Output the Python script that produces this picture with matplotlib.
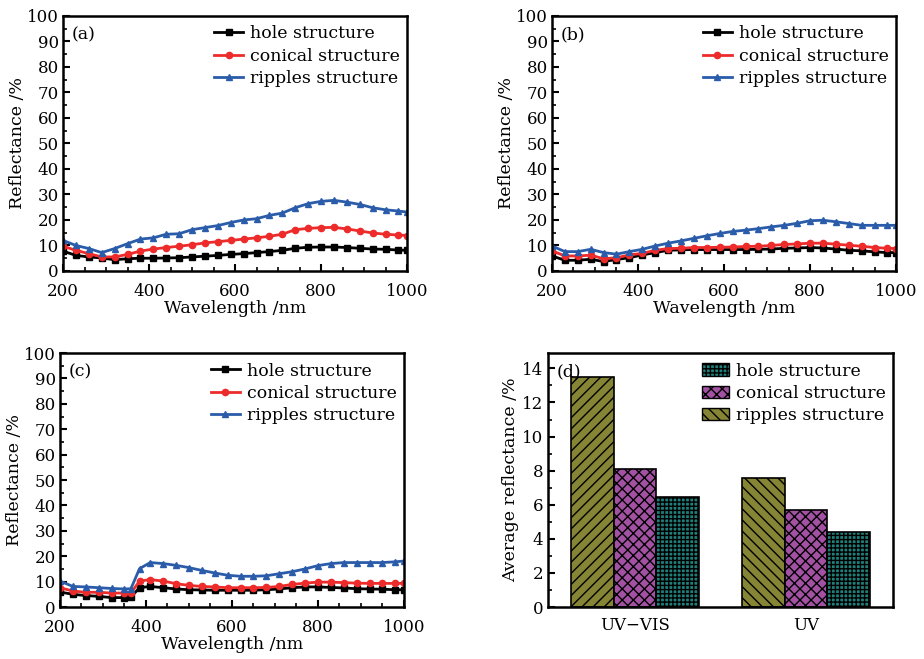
import matplotlib.pyplot as plt
from matplotlib.patches import Patch
from matplotlib.ticker import MultipleLocator

plt.rcParams['font.family'] = ['DejaVu Serif']
plt.rcParams['hatch.linewidth'] = 1.0

# wavelength grid (nm) for panels (a) and (b)
wl = [200, 230, 260, 290, 320, 350, 380, 410, 440, 470, 500, 530, 560, 590,
      620, 650, 680, 710, 740, 770, 800, 830, 860, 890, 920, 950, 980, 1000]

a_hole = [7.8, 6.1, 5.5, 5.1, 4.4, 4.8, 5.0, 5.0, 5.1, 5.2, 5.5, 5.8, 6.1, 6.5,
          6.8, 7.2, 7.6, 8.1, 8.9, 9.3, 9.4, 9.4, 9.2, 8.9, 8.6, 8.5, 8.2, 8.1]
a_conical = [9.7, 8.1, 6.8, 5.5, 5.5, 6.5, 7.8, 8.6, 9.2, 9.7, 10.3, 11.0, 11.5, 12.0,
             12.5, 13.0, 13.6, 14.4, 16.2, 16.7, 17.0, 17.1, 16.5, 15.7, 14.9, 14.4, 14.1, 13.9]
a_ripples = [12.0, 10.0, 8.8, 7.2, 8.8, 10.7, 12.5, 13.0, 14.4, 14.6, 16.2, 17.0, 17.8, 19.0,
             20.0, 20.5, 21.8, 22.7, 24.8, 26.4, 27.3, 27.7, 27.0, 26.1, 24.8, 24.0, 23.5, 23.1]

b_hole = [5.9, 4.2, 4.2, 4.6, 3.7, 4.5, 5.2, 6.3, 7.2, 8.1, 8.3, 8.4, 8.4, 8.4,
          8.4, 8.4, 8.5, 8.6, 8.9, 9.0, 9.2, 9.0, 8.6, 8.1, 7.9, 7.5, 7.2, 7.2]
b_conical = [7.9, 5.9, 5.9, 6.2, 4.8, 5.2, 6.3, 6.9, 8.1, 8.8, 8.9, 9.2, 9.2, 9.3,
             9.4, 9.6, 9.7, 10.0, 10.4, 10.6, 10.9, 10.9, 10.5, 10.1, 9.7, 9.2, 8.9, 8.8]
b_ripples = [9.8, 7.6, 7.6, 8.5, 7.2, 6.6, 7.6, 8.5, 9.8, 10.9, 11.8, 12.8, 13.8, 14.7,
             15.5, 16.0, 16.6, 17.3, 17.9, 18.7, 19.7, 19.9, 19.3, 18.6, 17.9, 17.9, 17.9, 17.9]

# panel (c) has a step near 370 nm
wl_c = [200, 230, 260, 290, 320, 350, 365, 385, 410, 440, 470, 500, 530, 560, 590,
        620, 650, 680, 710, 740, 770, 800, 830, 860, 890, 920, 950, 980, 1000]
c_hole = [5.9, 5.0, 4.5, 4.2, 3.7, 3.7, 3.9, 7.6, 8.1, 7.6, 7.1, 6.8, 6.7, 6.6, 6.6,
          6.6, 6.6, 6.8, 7.1, 7.6, 7.9, 7.9, 7.7, 7.5, 7.2, 7.1, 7.0, 6.8, 6.8]
c_conical = [7.6, 6.3, 5.8, 5.8, 5.5, 5.5, 5.5, 10.2, 10.8, 10.2, 9.2, 8.5, 8.1, 7.9, 7.6,
             7.6, 7.6, 7.7, 8.1, 8.9, 9.4, 9.8, 9.8, 9.6, 9.4, 9.3, 9.3, 9.3, 9.3]
c_ripples = [10.2, 8.1, 7.9, 7.6, 7.3, 7.1, 7.2, 15.1, 17.5, 17.1, 16.4, 15.5, 14.4, 13.4, 12.5,
             12.1, 12.1, 12.3, 13.1, 13.9, 15.0, 16.3, 17.1, 17.5, 17.5, 17.5, 17.5, 17.8, 18.1]

# panel (d) average reflectance
bands = ['UV\u2212VIS', 'UV']
avg_ripples = [13.5, 7.55]
avg_conical = [8.1, 5.7]
avg_hole = [6.45, 4.4]

labels = ['hole structure', 'conical structure', 'ripples structure']

fig = plt.figure(figsize=(9.24, 6.59), dpi=100)
ax_a = fig.add_axes([0.0682, 0.5888, 0.3723, 0.387])
ax_b = fig.add_axes([0.5974, 0.5888, 0.3723, 0.387])
ax_c = fig.add_axes([0.0649, 0.0789, 0.3723, 0.3854])
ax_d = fig.add_axes([0.5931, 0.0789, 0.3734, 0.3854])

tfs = 12
lfs = 12.5


def line_panel(ax, x, hole, conical, ripples, tag):
    ax.plot(x, hole, '-s', color='black', lw=2, ms=4.5, label=labels[0])
    ax.plot(x, conical, '-o', color='#ee2b2b', lw=2, ms=4.5, label=labels[1])
    ax.plot(x, ripples, '-^', color='#2a5caa', lw=2, ms=5, label=labels[2])
    ax.set_xlim(200, 1000)
    ax.set_ylim(0, 100)
    ax.xaxis.set_major_locator(MultipleLocator(200))
    ax.xaxis.set_minor_locator(MultipleLocator(50))
    ax.yaxis.set_major_locator(MultipleLocator(10))
    ax.yaxis.set_minor_locator(MultipleLocator(5))
    ax.tick_params(which='both', direction='in', labelsize=tfs, top=False, right=False)
    ax.tick_params(axis='x', pad=8.5)
    ax.tick_params(axis='y', pad=3)
    ax.tick_params(which='major', length=5, width=1.5)
    ax.tick_params(which='minor', length=3, width=1.2)
    ax.set_xlabel('Wavelength /nm', fontsize=lfs, labelpad=0)
    ax.set_ylabel('Reflectance /%', fontsize=lfs, labelpad=1)
    for s in ax.spines.values():
        s.set_linewidth(1.8)
    ax.text(0.025, 0.925, tag, transform=ax.transAxes, fontsize=lfs, va='center')
    ax.legend(loc='upper right', frameon=False, fontsize=lfs, handlelength=1.7,
              handletextpad=0.4, labelspacing=0.3, borderaxespad=0.0,
              bbox_to_anchor=(1.0, 0.99))


line_panel(ax_a, wl, a_hole, a_conical, a_ripples, '(a)')
line_panel(ax_b, wl, b_hole, b_conical, b_ripples, '(b)')
line_panel(ax_c, wl_c, c_hole, c_conical, c_ripples, '(c)')

# bar panel
olive, magenta, teal = '#858535', '#a352a3', '#1f7f7a'
w = 0.25
pos = [0, 1]
ax_d.bar([p - w for p in pos], avg_ripples, w, color=olive, edgecolor='black', lw=1.2)
ax_d.bar(pos, avg_conical, w, color=magenta, edgecolor='black', lw=1.2, hatch='xxx')
ax_d.bar([p + w for p in pos], avg_hole, w, color=teal, edgecolor='black', lw=1.2, hatch='++++')
rip = ax_d.patches[:2]
rip[0].set_hatch('///')
rip[1].set_hatch('\\\\\\')
ax_d.set_xlim(-0.51, 1.51)
ax_d.set_ylim(0, 14.9)
ax_d.set_xticks(pos)
ax_d.set_xticklabels(bands)
ax_d.yaxis.set_major_locator(MultipleLocator(2))
ax_d.yaxis.set_minor_locator(MultipleLocator(1))
ax_d.tick_params(axis='x', length=0, labelsize=tfs, pad=7)
ax_d.tick_params(axis='y', which='both', direction='in', labelsize=tfs)
ax_d.tick_params(axis='y', which='major', length=5, width=1.5)
ax_d.tick_params(axis='y', which='minor', length=3, width=1.2)
ax_d.set_ylabel('Average reflectance /%', fontsize=lfs, labelpad=2)
for s in ax_d.spines.values():
    s.set_linewidth(1.8)
ax_d.text(0.025, 0.925, '(d)', transform=ax_d.transAxes, fontsize=lfs, va='center')
handles = [Patch(facecolor=teal, edgecolor='black', hatch='++++'),
           Patch(facecolor=magenta, edgecolor='black', hatch='xxx'),
           Patch(facecolor=olive, edgecolor='black', hatch='\\\\\\')]
ax_d.legend(handles, labels, loc='upper right', frameon=False, fontsize=lfs,
            handlelength=1.6, handleheight=0.7, handletextpad=0.4,
            labelspacing=0.3, borderaxespad=0.0, bbox_to_anchor=(1.0, 0.99))

fig.savefig('out.png', dpi=100)
